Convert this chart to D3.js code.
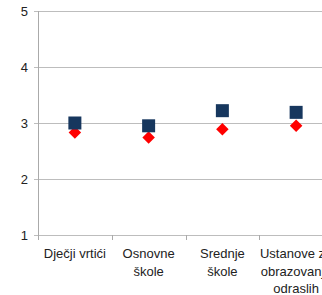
<!DOCTYPE html>
<html lang="hr">
<head>
<meta charset="UTF-8">
<title>Chart</title>
<script src="https://d3js.org/d3.v7.min.js"></script>
<style>
    body { margin: 0; background: #fff; overflow: hidden; }
    svg { display: block; font-family: "Liberation Sans", Arial, sans-serif; }
</style>
</head>
<body>
<div id="chart"></div>
<script>
    // chart data
    const categories = ["Dječji vrtići", "Osnovne škole", "Srednje škole", "Ustanove za obrazovanje odraslih"];
    const seriesSquare = [3.0, 2.95, 3.22, 3.19];
    const seriesDiamond = [2.83, 2.74, 2.89, 2.95];
    const yTicks = [1, 2, 3, 4, 5];

    const width = 322, height = 295;
    const plotLeft = 38, plotTop = 11, plotBottom = 235, plotRight = 333;

    const svg = d3.select("#chart").append("svg")
        .attr("width", width)
        .attr("height", height);

    const x = d3.scaleBand()
        .domain(categories)
        .range([plotLeft, plotRight]);

    const y = d3.scaleLinear()
        .domain([1, 5])
        .range([plotBottom, plotTop]);

    // gridlines + y ticks
    svg.append("g")
        .selectAll("line")
        .data(yTicks)
        .enter().append("line")
        .attr("x1", plotLeft - 4)
        .attr("x2", plotRight)
        .attr("y1", d => y(d) + 0.5)
        .attr("y2", d => y(d) + 0.5)
        .attr("stroke", "#bdbdbd")
        .attr("stroke-width", 1);

    svg.append("g")
        .selectAll("text")
        .data(yTicks)
        .enter().append("text")
        .attr("x", plotLeft - 10)
        .attr("y", d => y(d))
        .attr("dy", "0.35em")
        .attr("text-anchor", "end")
        .attr("font-size", 13)
        .attr("fill", "#222")
        .text(d => d);

    // y axis line
    svg.append("line")
        .attr("x1", plotLeft + 0.5).attr("x2", plotLeft + 0.5)
        .attr("y1", plotTop).attr("y2", plotBottom + 5)
        .attr("stroke", "#aaaaaa");

    // category ticks
    const tickXs = categories.map(c => x(c)).slice(1);
    svg.append("g")
        .selectAll("line")
        .data(tickXs)
        .enter().append("line")
        .attr("x1", d => Math.round(d) + 0.5)
        .attr("x2", d => Math.round(d) + 0.5)
        .attr("y1", plotBottom)
        .attr("y2", plotBottom + 5)
        .attr("stroke", "#aaaaaa");

    // category labels, wrapped to band width
    const labels = svg.append("g")
        .selectAll("text")
        .data(categories)
        .enter().append("text")
        .attr("x", d => x(d) + x.bandwidth() / 2)
        .attr("y", 258)
        .attr("text-anchor", "middle")
        .attr("font-size", 13)
        .attr("fill", "#222");

    labels.each(function(d) {
        const t = d3.select(this);
        const words = d.split(" ");
        let line = [];
        let tspan = t.append("tspan").attr("x", x(d) + x.bandwidth() / 2).attr("dy", 0);
        words.forEach(w => {
            line.push(w);
            tspan.text(line.join(" "));
            if (tspan.node().getComputedTextLength() > x.bandwidth() && line.length > 1) {
                line.pop();
                tspan.text(line.join(" "));
                line = [w];
                tspan = t.append("tspan")
                    .attr("x", x(d) + x.bandwidth() / 2)
                    .attr("dy", 17.5)
                    .text(w);
            }
        });
    });

    // markers
    const cx = d => x(d) + x.bandwidth() / 2;

    svg.append("g")
        .selectAll("path")
        .data(categories)
        .enter().append("path")
        .attr("d", d3.symbol().type(d3.symbolDiamond2).size(100))
        .attr("transform", (d, i) => `translate(${cx(d)},${y(seriesDiamond[i])})`)
        .attr("fill", "#ff0000");

    svg.append("g")
        .selectAll("rect")
        .data(categories)
        .enter().append("rect")
        .attr("x", d => cx(d) - 6.5)
        .attr("y", (d, i) => y(seriesSquare[i]) - 6.5)
        .attr("width", 13)
        .attr("height", 13)
        .attr("fill", "#17375e");
</script>
</body>
</html>
